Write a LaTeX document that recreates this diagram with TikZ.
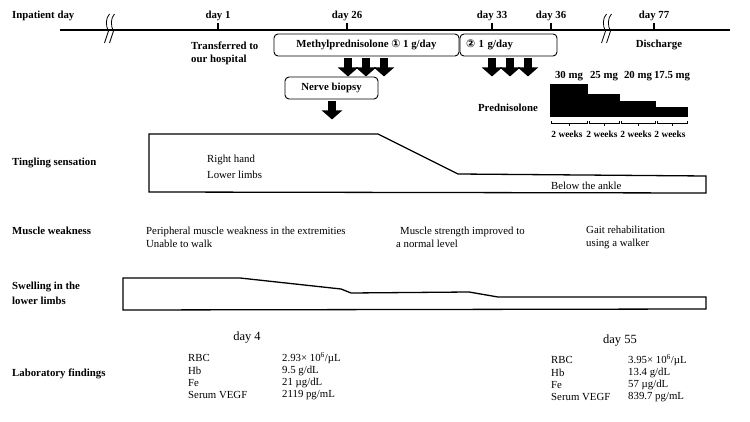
\documentclass[tikz,border=0pt]{standalone}
\usepackage{fontspec}
\setmainfont{Liberation Serif}
\newfontfamily\circfont{DejaVu Sans}
\usetikzlibrary{arrows.meta}
\newcommand{\txt}{\fontsize{10.8}{13.5}\selectfont}
\tikzset{blkarrow/.style={line width=7.5pt, -{Triangle[width=20pt, length=9pt]}}}
\tikzset{phasebox/.style={draw, line width=0.9pt, rounded corners=4pt, minimum height=22pt, inner sep=0pt, font=\txt\bfseries}}
\tikzset{course/.style={draw, line width=1.3pt}}
\newcommand{\axisbreak}[1]{\foreach \o in {-2.5,2.5} {\draw[line width=0.8pt] ({#1+\o+2},14) .. controls ({#1+\o-2},18) and ({#1+\o-2},26) .. ({#1+\o+1},31) -- ({#1+\o-3},43);}}

\begin{document}
\begin{tikzpicture}[x=1pt, y=-1pt, every node/.style={font=\txt}, bold/.style={font=\txt\bfseries}, rowlbl/.style={bold, anchor=west, align=left, inner xsep=0pt}, note/.style={anchor=west, align=left, inner xsep=0pt}]
\useasboundingbox (0,0) rectangle (750,422);
\coordinate (tl-start) at (60,30);
\coordinate (tl-end) at (730,30);
\draw[line width=1.8pt] (tl-start) -- (tl-end);
\axisbreak{110}
\axisbreak{607}
\foreach \d/\x in {1/218,26/347,33/492,36/551,77/654}
  \draw[line width=1.2pt] (\x,30) -- (\x,23) node[bold, anchor=south, inner sep=2pt] (day\d) {day \d};

\node[rowlbl] (inpatient) at (12,16) {Inpatient day};
\node[rowlbl] (tingling) at (12,163) {Tingling sensation};
\node[rowlbl] (weakness) at (12,231) {Muscle weakness};
\node[rowlbl] (swelling) at (12,293.5) {Swelling in the\\[1.5pt]lower limbs};
\node[rowlbl] (lab) at (12,374) {Laboratory findings};

\node[note, bold] (transfer) at (191,53.5) {Transferred to\\our hospital};
\node[bold] (discharge) at (659,45) {Discharge};

\node[phasebox, minimum width=185pt] (meth) at (366.5,45) {Methylprednisolone {\circfont ①} 1 g/day};
\node[phasebox, text width=85pt, inner xsep=6pt, align=left] (pulse2) at (508.5,45) {{\circfont ②} 1 g/day};
\node[phasebox, minimum width=93pt] (biopsy) at (331.5,88) {Nerve biopsy};
\foreach \x in {348,366,384}
  \draw[blkarrow] (meth.south -| \x,0) ++(0,2) -- ++(0,18);
\foreach \x in {492,510,528}
  \draw[blkarrow] (pulse2.south -| \x,0) ++(0,2) -- ++(0,18);
\draw[blkarrow] (biopsy.south -| 332,0) ++(0,2) -- ++(0,18);

\node[bold] (pred) at (508,108) {Prednisolone};
\foreach \a/\b/\t/\dose [count=\i] in {550/588/84/30 mg, 588/620/94/25 mg, 620/656/101/20 mg, 656/688/107/17.5 mg} {
  \fill (\a,\t) rectangle (\b,117);
  \node[bold] (dose\i) at ({(\a+\b)/2},76) {\dose};
  \draw[line width=0.5pt] (\a+1,121) -- (\a+1,123.5) -- (\b-1,123.5) -- (\b-1,121);
  \draw[line width=0.5pt] ({(\a+\b)/2},123.5) -- ({(\a+\b)/2},126);
  \node[font=\fontsize{9.4}{11}\selectfont\bfseries] (wk\i) at ({(\a+\b)/2-2},134) {2 weeks};
}

\draw[course] (149,134) -- (378,134) -- (458,174) -- (706,176) -- (706,193) -- (149,192) -- cycle;
\node[note] (tingle-early) at (207,167) {Right hand\\[2.5pt]Lower limbs};
\node[note] (tingle-late) at (551,186) {Below the ankle};

\node[note] (weak-early) at (146,237.5) {Peripheral muscle weakness in the extremities\\Unable to walk};
\node[note] (weak-mid) at (396,237.5) {\hspace*{4pt}Muscle strength improved to\\a normal level};
\node[note] (weak-late) at (586,237.5) {Gait rehabilitation\\using a walker};

\draw[course] (123,278) -- (240,278) -- (341,289) -- (351,293) -- (469,292) -- (498,297) -- (706,297) -- (706,309) -- (123,310) -- cycle;

\node[font=\fontsize{12.5}{14}\selectfont] (day4) at (247,338) {day 4};
\node[note] (rbc-a) at (188,358) {RBC};
\node[note] (hb-a) at (188,370.5) {Hb};
\node[note] (fe-a) at (188,383) {Fe};
\node[note] (vegf-a) at (188,395.5) {Serum VEGF};
\node[note] (rbc-a-val) at (282,358) {2.93× 10\textsuperscript{6}/µL};
\node[note] (hb-a-val) at (282,370.5) {9.5 g/dL};
\node[note] (fe-a-val) at (282,383) {21 µg/dL};
\node[note] (vegf-a-val) at (282,395.5) {2119 pg/mL};

\node[font=\fontsize{12.5}{14}\selectfont] (day55) at (620,341) {day 55};
\node[note] (rbc-b) at (551,360) {RBC};
\node[note] (hb-b) at (551,372.5) {Hb};
\node[note] (fe-b) at (551,385) {Fe};
\node[note] (vegf-b) at (551,397.5) {Serum VEGF};
\node[note] (rbc-b-val) at (628,360) {3.95× 10\textsuperscript{6}/µL};
\node[note] (hb-b-val) at (628,372.5) {13.4 g/dL};
\node[note] (fe-b-val) at (628,385) {57 µg/dL};
\node[note] (vegf-b-val) at (628,397.5) {839.7 pg/mL};
\end{tikzpicture}
\end{document}
